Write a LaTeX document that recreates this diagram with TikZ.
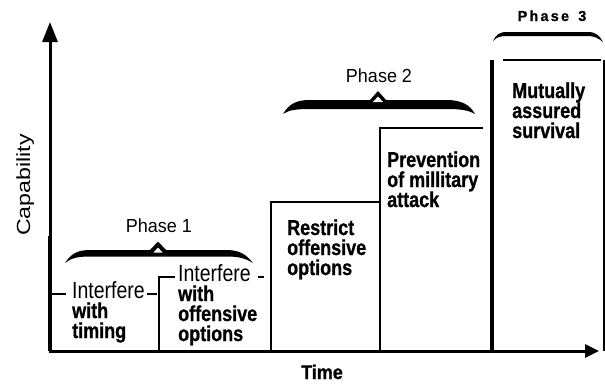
\documentclass[tikz,border=0pt]{standalone}
\usepackage{fontspec}
\setmainfont{Liberation Sans}[BoldFeatures={FakeBold=1}]
\newfontfamily\phasefont[LetterSpace=15,BoldFeatures={FakeBold=0.6}]{Liberation Sans}
\usetikzlibrary{arrows.meta}
\newcommand\boxtext[1]{\scalebox{1}[1.2]{\vtop{\fontsize{18}{16.67}\selectfont\bfseries\lineskiplimit=-\maxdimen\lineskip=0pt #1}}}
\newcommand\interf{\fontsize{19.5}{16.67}\selectfont\mdseries}
\begin{document}
\begin{tikzpicture}[x=1pt,y=-1pt,line join=miter,
  axis/.style={line width=3pt},
  edge/.style={line width=2.6pt},
  boxtxt/.style={anchor=base west,inner sep=0pt},
  phase/.style={anchor=base,inner sep=0pt,font=\fontsize{18}{20}\selectfont},
  bracefill/.style={fill=black,draw=none}]
\useasboundingbox (0,0) rectangle (605,383);
% axes
\coordinate (O) at (50,351);
\coordinate (Ytip) at (50,22);
\coordinate (Xtip) at (599,351);
\coordinate (Ythick) at (50,236);
\draw[axis,{Triangle[length=20pt,width=15pt]}-{Triangle[length=14pt,width=13pt]}] (Ytip) -- (O) -- (Xtip);
\draw[line width=4pt] (Ythick) -- (O);
% box outlines
\draw[edge] (50,294) -- (66,294);
\draw[edge] (147,294) -- (157,294);
\draw[edge] (159,351) -- (159,277) -- (175,277);
\draw[edge] (258,277) -- (264,277);
\draw[edge] (271,351) -- (271,202) -- (380,202);
\draw[edge] (380,351) -- (380,128) -- (483,128);
\draw[line width=3.5pt] (492,351) -- (492,60);
\draw[edge] (503,60) -- (601,60);
\draw[line width=2pt] (603.5,60) -- (603.5,351);
% braces
\fill[bracefill] (65,263) .. controls (71,254) and (77,250) .. (90,250) -- (150,250) -- (158,241.5) -- (166,250) -- (226,250)
  .. controls (239,250) and (246,254) .. (253,263) .. controls (245,258) and (238,256.5) .. (226,256.5) -- (90,256.5)
  .. controls (78,256.5) and (71,258) .. (65,263) -- cycle;
\fill[white] (153.5,252.5) -- (158,247.5) -- (162.5,252.5) -- cycle;
\fill[bracefill] (283,114) .. controls (289,104) and (296,100) .. (310,100) -- (370,100) -- (378,91) -- (386,100) -- (446,100)
  .. controls (462,100) and (470,105) .. (475,114) .. controls (468,110) and (460,109) .. (446,109) -- (310,109)
  .. controls (296,109) and (289,110) .. (283,114) -- cycle;
\fill[white] (373,102) -- (378,96.5) -- (383,102) -- cycle;
\fill[bracefill] (493,41) .. controls (496,35) and (499,32) .. (507,32) -- (588,32) .. controls (596,32) and (600,36) .. (603,42)
  .. controls (598,38) and (594,36) .. (588,36) -- (507,36) .. controls (500,36) and (497,37) .. (493,41) -- cycle;
% phase labels
\node[phase] (p1) at (159,232) {\scalebox{1}[1.05]{Phase 1}};
\node[phase] (p2) at (379,82) {\scalebox{1}[1.05]{Phase 2}};
\node[anchor=base,inner sep=0pt] (p3) at (552,21) {\fontsize{14.5}{16}\selectfont\phasefont\bfseries Phase\ \hspace{3pt}3};
% box texts
\node[boxtxt] (t1) at (72,298) {\boxtext{\hbox{\interf Interfere}\hbox{with}\hbox{timing}}};
\node[boxtxt] (t2) at (178,281) {\boxtext{\hbox{\interf Interfere}\hbox{with}\hbox{offensive}\hbox{options}}};
\node[boxtxt] (t3) at (287,235) {\boxtext{\hbox{Restrict}\hbox{offensive}\hbox{options}}};
\node[boxtxt] (t4) at (387,167) {\boxtext{\hbox{Prevention}\hbox{of millitary}\hbox{attack}}};
\node[boxtxt] (t5) at (512,98) {\boxtext{\hbox{Mutually}\hbox{assured}\hbox{survival}}};
% axis labels
\node[anchor=base,inner sep=0pt,rotate=90] (cap) at (30,185) {\fontsize{19}{21}\selectfont\scalebox{1.22}[1]{Capability}};
\node[anchor=base,inner sep=0pt] (time) at (322,379) {\fontsize{18}{20}\selectfont\bfseries\scalebox{1}[1.1]{Time}};
\end{tikzpicture}
\end{document}
